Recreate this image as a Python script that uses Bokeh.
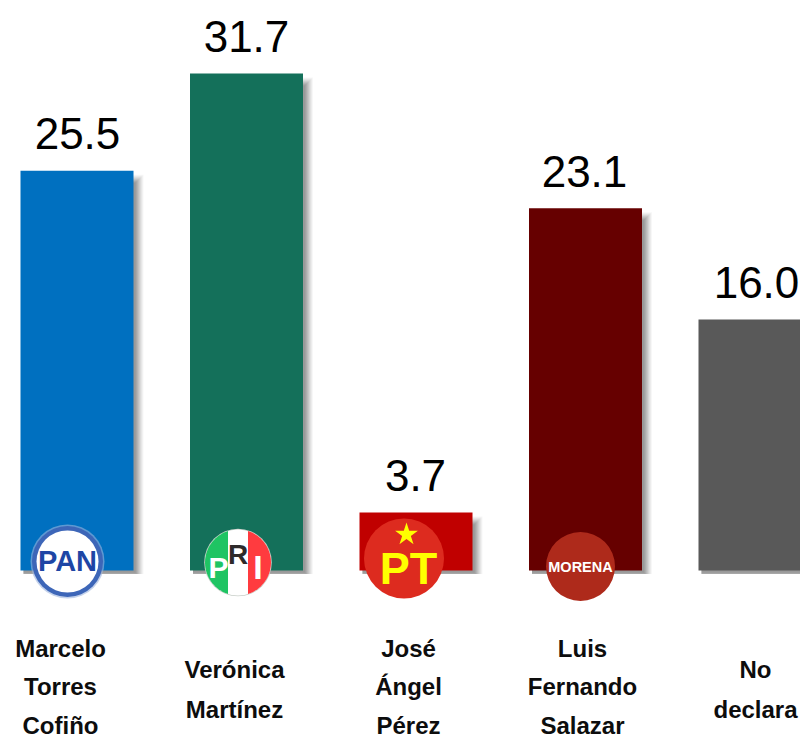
import numpy as np
from bokeh.plotting import figure
from bokeh.models import ColumnDataSource
from bokeh.core.properties import value
from bokeh.embed import file_html
from bokeh.resources import INLINE

categories = ["Marcelo Torres Cofiño", "Verónica Martínez", "José Ángel Pérez", "Luis Fernando Salazar", "No declara"]
values = [25.5, 31.7, 3.7, 23.1, 16.0]
value_labels = ["25.5", "31.7", "3.7", "23.1", "16.0"]
label_lines = [["Marcelo", "Torres", "Cofiño"], ["Verónica", "Martínez"], ["José", "Ángel", "Pérez"],
               ["Luis", "Fernando", "Salazar"], ["No", "declara"]]
colors = ["#0070C0", "#14705A", "#C00000", "#660000", "#595959"]

W, H = 800, 741
PAGE = 0
ZERO_PX = 570.0
UNIT_PX = 15.68
FIRST_PX = 76.5
STEP_PX = 169.5
BAR_PX = 113.0
BASE_SHIFT = 0.38  # em lift needed so that glyph baselines land where wanted

x_range = ((PAGE - FIRST_PX) / STEP_PX, (PAGE + W - FIRST_PX) / STEP_PX)
y_range = ((ZERO_PX - (PAGE + H)) / UNIT_PX, (ZERO_PX - PAGE) / UNIT_PX)

def X(px):
    return (np.asarray(px, dtype=float) - FIRST_PX) / STEP_PX

def Y(py):
    return (ZERO_PX - np.asarray(py, dtype=float)) / UNIT_PX

p = figure(width=W, height=H, x_range=x_range, y_range=y_range, output_backend="svg",
           toolbar_location=None, min_border=0, outline_line_color=None, background_fill_color="white")
p.xaxis.visible = False
p.yaxis.visible = False
p.grid.visible = False

xs = np.arange(len(values), dtype=float)
vals = np.array(values)
hw = BAR_PX / STEP_PX / 2

# soft drop shadow
for grow, alpha in [(10, 0.05), (9, 0.07), (8, 0.08), (7, 0.10), (6, 0.12), (5, 0.12), (4, 0.14), (3, 0.14), (2, 0.14)]:
    dx = grow / STEP_PX
    dy = min(grow, 3.5) / UNIT_PX
    p.quad(left=xs - hw + 3 / STEP_PX, right=xs + hw + dx, top=vals - (14 - grow) / UNIT_PX, bottom=-dy,
           fill_color="#606060", fill_alpha=alpha, line_color=None)

src = ColumnDataSource(dict(x=xs, top=vals, color=colors, label=value_labels, cat=categories))
p.vbar(x="x", top="top", bottom=0, width=BAR_PX / STEP_PX, fill_color="color", line_color=None, source=src)

value_x = [77, 246, 415, 584, 756]
VALUE_SIZE = 44
p.text(x=X(value_x), y=vals, text=value_labels, y_offset=-20 - BASE_SHIFT * VALUE_SIZE, text_align="center",
       text_baseline="alphabetic", text_font=value("Liberation Sans"), text_font_size=f"{VALUE_SIZE}px",
       text_color="#000000")

# candidate names
NAME_SIZE = 24
name_x = [60, 234, 408, 582, 755]
for cx, lines in zip(name_x, label_lines):
    three = len(lines) == 3
    base = 657 if three else 678
    gap = 38.5 if three else 40
    for k, line in enumerate(lines):
        p.text(x=[float(X(cx))], y=[0], text=[line], y_offset=base + gap * k - ZERO_PX - BASE_SHIFT * NAME_SIZE,
               text_align="center", text_baseline="alphabetic", text_font=value("Liberation Sans"),
               text_font_style="bold", text_font_size=f"{NAME_SIZE}px", text_color="#0D0D0D")

def dot(cx, cy, r, color, alpha=1.0):
    p.scatter(x=[float(X(cx))], y=[float(Y(cy))], size=2 * r, marker="circle", fill_color=color,
              fill_alpha=alpha, line_color=None)

def word(cx, cy, s, size, color, font="Liberation Sans", style="bold"):
    p.text(x=[float(X(cx))], y=[float(Y(cy))], y_offset=-BASE_SHIFT * size, text=[s], text_align="center",
           text_baseline="alphabetic", text_font=value(font), text_font_style=style,
           text_font_size=f"{size}px", text_color=color)

# PAN
dot(67, 561, 37, "#9DB4DE", 0.6)
dot(67, 561, 35.5, "#3D66B8")
dot(67, 561, 31, "#FFFFFF")
word(67, 572, "PAN", 29, "#1E46A5")

# PRI
c = (237.5, 562.0)
R = 33.0
dot(c[0], c[1], R + 0.8, "#C9CFC9")
dot(c[0], c[1], R, "#FFFFFF")
def segment(x_cut, left):
    a = np.arccos(abs(x_cut) / R)
    if left:
        t = np.linspace(np.pi - a, np.pi + a, 40)
    else:
        t = np.linspace(-a, a, 40)
    p.patch(x=X(c[0] + R * np.cos(t)), y=Y(c[1] + R * np.sin(t)),
            fill_color="#1FC463" if left else "#FF3B3F", line_color=None)
segment(-10, True)
segment(10, False)
word(218, 578, "P", 30, "#FFFFFF")
word(237.5, 565, "R", 28, "#2E2A2A")
word(257.5, 579, "I", 34, "#FFFFFF")

# PT
dot(403.5, 558, 40, "#DD2B1F")
p.scatter(x=[float(X(406))], y=[float(Y(534))], size=24, marker="star", fill_color="#FFFF00", line_color=None)
word(408, 585, "PT", 45, "#FFFF00")

# MORENA
dot(580, 566, 34.5, "#AE2A1B")
word(580, 572, "MORENA", 14.5, "#FFFFFF")

open("out.html", "w").write(file_html(p, INLINE))
